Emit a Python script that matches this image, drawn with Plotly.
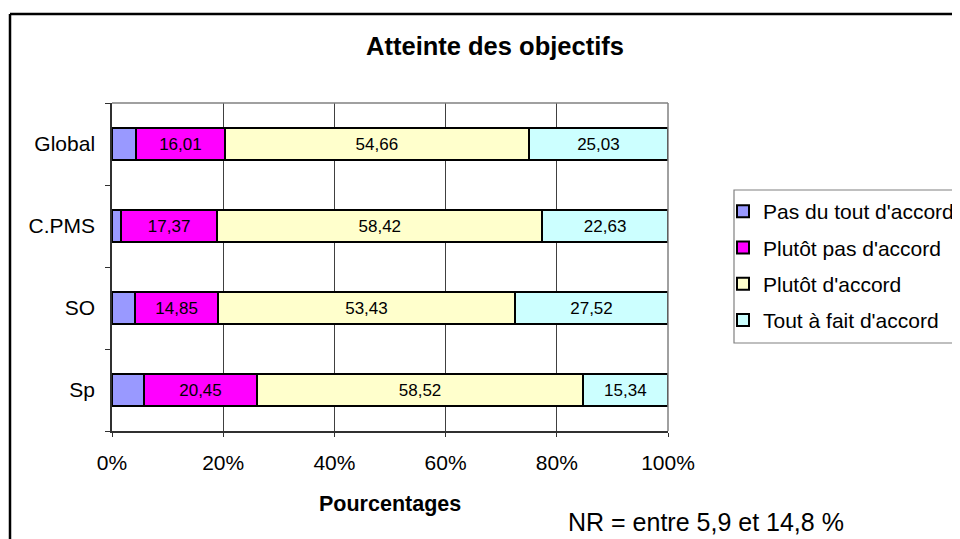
import plotly.graph_objects as go

categories = ["Sp", "SO", "C.PMS", "Global"]
series_names = ["Pas du tout d'accord", "Plutôt pas d'accord", "Plutôt d'accord", "Tout à fait d'accord"]
pas_du_tout = [5.69, 4.20, 1.58, 4.30]
plutot_pas = [20.45, 14.85, 17.37, 16.01]
plutot_accord = [58.52, 53.43, 58.42, 54.66]
tout_a_fait = [15.34, 27.52, 22.63, 25.03]
show_label = [False, True, True, True]
colors = ["#9999FF", "#FF00FF", "#FFFFCC", "#CCFFFF"]
x_tickvals = [0, 20, 40, 60, 80, 100]
x_ticktext = ["0%", "20%", "40%", "60%", "80%", "100%"]

FONT = "Liberation Sans, Arial, sans-serif"
OFF = 8  # page body margin offset
W, H = 960 - OFF, 539 - OFF
# plot area in screenshot pixels
PX_L, PX_R, PX_T, PX_B = 112, 668, 103, 431
ML = PX_L - OFF
MT = PX_T - OFF
MR = W - (PX_R - OFF)
MB = H - (PX_B - OFF)
pw = PX_R - PX_L
ph = PX_B - PX_T


def px_x(p):
    return (p - PX_L) / pw


def px_y(p):
    return (PX_B - p) / ph


def cx(p):
    return (p - OFF) / W


def cy(p):
    return 1 - (p - OFF) / H


fig = go.Figure()
all_series = [pas_du_tout, plutot_pas, plutot_accord, tout_a_fait]
for i, (name, vals) in enumerate(zip(series_names, all_series)):
    txt = [f"{v:.2f}".replace(".", ",") if show_label[i] else "" for v in vals]
    fig.add_trace(go.Bar(
        y=categories, x=vals, name=name, orientation="h",
        marker=dict(color=colors[i], line=dict(color="black", width=2)),
        text=txt, textposition="inside", insidetextanchor="middle",
        textfont=dict(family=FONT, size=17, color="black"),
        width=0.39, legendgroup=f"g{i}", hoverinfo="skip",
    ))

shapes = [
    # plot area top and right border (gray)
    dict(type="line", xref="paper", yref="paper", x0=0, x1=1, y0=1, y1=1,
         line=dict(color="#808080", width=1.5)),
    dict(type="line", xref="paper", yref="paper", x0=1, x1=1, y0=0, y1=1,
         line=dict(color="#808080", width=1.5)),
    # outer chart frame (top and left)
    dict(type="line", xref="paper", yref="paper", x0=px_x(10), x1=px_x(980),
         y0=px_y(14), y1=px_y(14), line=dict(color="black", width=2.5)),
    dict(type="line", xref="paper", yref="paper", x0=px_x(10), x1=px_x(10),
         y0=px_y(14), y1=px_y(560), line=dict(color="black", width=2.5)),
    # legend box
    dict(type="rect", xref="paper", yref="paper", x0=px_x(734), x1=px_x(990),
         y0=px_y(190), y1=px_y(343), line=dict(color="#808080", width=1.2)),
]

fig.update_layout(
    width=W, height=H,
    margin=dict(l=ML, r=MR, t=MT, b=MB),
    barmode="stack",
    paper_bgcolor="white", plot_bgcolor="white",
    font=dict(family=FONT, color="black"),
    title=dict(text="<b>Atteinte des objectifs</b>", x=cx(495), xanchor="center",
               xref="container", y=cy(46), yref="container", yanchor="middle",
               font=dict(size=25.5, family=FONT, color="black")),
    xaxis=dict(range=[0, 100], tickvals=x_tickvals, ticktext=x_ticktext,
               showgrid=True, gridcolor="#404040", gridwidth=1,
               showline=True, linecolor="#303030", linewidth=1.5,
               ticks="outside", ticklen=4, tickcolor="#303030",
               tickfont=dict(size=21, family=FONT, color="black"),
               ticklabelstandoff=8, zeroline=False, fixedrange=True),
    yaxis=dict(categoryorder="array", categoryarray=categories,
               showline=True, linecolor="#303030", linewidth=1.5,
               ticks="outside", ticklen=5, tickcolor="#303030",
               tickson="boundaries", showgrid=False,
               tickfont=dict(size=21, family=FONT, color="black"),
               ticklabelstandoff=11, fixedrange=True),
    legend=dict(xref="container", yref="container", x=cx(723), y=cy(191),
                xanchor="left", yanchor="top", traceorder="grouped",
                tracegroupgap=6, bgcolor="rgba(0,0,0,0)", borderwidth=0,
                font=dict(size=21, family=FONT, color="black"),
                itemwidth=30),
    shapes=shapes,
    annotations=[
        dict(text="<b>Pourcentages</b>", xref="paper", yref="paper",
             x=px_x(390), y=px_y(504), xanchor="center", yanchor="middle",
             showarrow=False,
             font=dict(size=21.5, family=FONT, color="black")),
        dict(text="NR = entre 5,9 et 14,8 %", xref="paper", yref="paper",
             x=px_x(566), y=px_y(522), xanchor="left", yanchor="middle",
             showarrow=False,
             font=dict(size=25, family=FONT, color="black")),
    ],
    showlegend=True,
)

fig.write_html("out.html")
